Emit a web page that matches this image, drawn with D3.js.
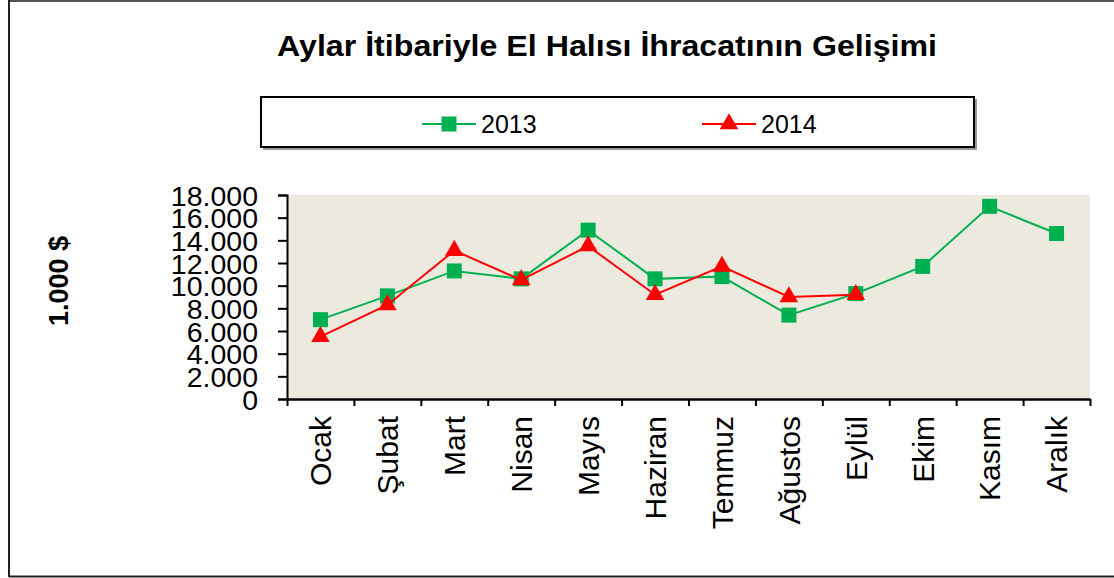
<!DOCTYPE html>
<html>
<head>
<meta charset="utf-8">
<script src="https://cdn.jsdelivr.net/npm/d3@7"></script>
<style>
  body { margin: 0; background: #fff; }
  text { font-family: "Liberation Sans", Arial, sans-serif; }
</style>
</head>
<body>
<div id="chart"></div>
<script>
// ---------------- DATA ----------------
var months = ["Ocak", "Şubat", "Mart", "Nisan", "Mayıs", "Haziran",
              "Temmuz", "Ağustos", "Eylül", "Ekim", "Kasım", "Aralık"];
var values2013 = [7000, 9100, 11300, 10600, 14900, 10600, 10800, 7400, 9300, 11700, 17000, 14600];
var values2014 = [5500, 8300, 13100, 10500, 13500, 9200, 11700, 9000, 9200];
var yTicks = [0, 2000, 4000, 6000, 8000, 10000, 12000, 14000, 16000, 18000];
var titleText = "Aylar İtibariyle El Halısı İhracatının Gelişimi";
var yTitle = "1.000 $";

// ---------------- CANVAS ----------------
var svgWidth = 1114, svgHeight = 578;
var plot = {left: 287, right: 1090, top: 195, bottom: 399};

var svg = d3.select("#chart")
  .append("svg")
    .attr("width", svgWidth)
    .attr("height", svgHeight);

// outer frame (no right edge visible in the picture)
svg.append("line").attr("x1", 9).attr("x2", svgWidth).attr("y1", 1).attr("y2", 1)
  .attr("stroke", "#555").attr("stroke-width", 2);
svg.append("line").attr("x1", 9).attr("x2", 9).attr("y1", 0).attr("y2", 577)
  .attr("stroke", "#222").attr("stroke-width", 2);
svg.append("line").attr("x1", 9).attr("x2", svgWidth).attr("y1", 576.5).attr("y2", 576.5)
  .attr("stroke", "#222").attr("stroke-width", 2);

// title
svg.append("text")
  .attr("x", 277).attr("y", 56)
  .attr("font-size", 29).attr("font-weight", "bold")
  .attr("textLength", 660).attr("lengthAdjust", "spacingAndGlyphs")
  .text(titleText);

// ---------------- SCALES ----------------
var x = d3.scaleBand().domain(months).range([plot.left, plot.right]).padding(0);
var xEdges = d3.scaleLinear().domain([0, months.length]).range([plot.left, plot.right]);
var y = d3.scaleLinear().domain([0, 18000]).range([plot.bottom, plot.top]);

var trFormat = d3.formatLocale({decimal: ",", thousands: ".", grouping: [3], currency: ["", "$"]}).format(",d");

// plot background
svg.append("rect")
  .attr("x", plot.left).attr("y", plot.top)
  .attr("width", plot.right - plot.left).attr("height", plot.bottom - plot.top)
  .attr("fill", "#ECEADF");

// ---------------- AXES ----------------
var yAxis = svg.append("g")
  .attr("transform", `translate(${plot.left},0)`)
  .call(d3.axisLeft(y).tickValues(yTicks).tickFormat(trFormat).tickSize(9).tickPadding(20));
yAxis.select(".domain").attr("stroke", "#000").attr("stroke-width", 2);
yAxis.selectAll(".tick line").attr("stroke", "#000").attr("stroke-width", 2);
yAxis.selectAll(".tick text")
  .attr("font-size", 28.5).attr("font-family", "Liberation Sans, Arial, sans-serif")
  .attr("fill", "#000").attr("dy", "0.36em");

// x tick marks between categories
var xTicks = svg.append("g")
  .attr("transform", `translate(0,${plot.bottom})`)
  .call(d3.axisBottom(xEdges).tickValues(d3.range(months.length + 1)).tickFormat("").tickSize(7).tickSizeOuter(0));
xTicks.select(".domain").attr("stroke", "#000").attr("stroke-width", 2.5);
xTicks.selectAll(".tick line").attr("stroke", "#000").attr("stroke-width", 2);

// x category labels
var xLabels = svg.append("g")
  .attr("transform", `translate(0,${plot.bottom})`)
  .call(d3.axisBottom(x).tickSize(0));
xLabels.select(".domain").remove();
xLabels.selectAll(".tick text")
  .attr("font-size", 30).attr("font-family", "Liberation Sans, Arial, sans-serif")
  .attr("fill", "#000")
  .attr("text-anchor", "end")
  .attr("transform", "rotate(-90)")
  .attr("x", -17).attr("y", 0).attr("dy", "0.36em");

// y title
svg.append("text")
  .attr("transform", "translate(68,281) rotate(-90)")
  .attr("text-anchor", "middle")
  .attr("font-size", 27).attr("font-weight", "bold")
  .text(yTitle);

// ---------------- SERIES ----------------
var series = [
  {name: "2013", values: values2013, color: "#00B050", symbol: d3.symbolSquare, size: 225},
  {name: "2014", values: values2014, color: "#FF0000", symbol: d3.symbolTriangle, size: 150}
];

var line = d3.line()
  .x((d, i) => x(months[i]) + x.bandwidth() / 2)
  .y(d => y(d));

series.forEach(function(s) {
  svg.append("path")
    .datum(s.values)
    .attr("d", line)
    .attr("fill", "none")
    .attr("stroke", s.color)
    .attr("stroke-width", 2);

  svg.selectAll(null)
    .data(s.values)
    .enter()
    .append("path")
      .attr("d", d3.symbol(s.symbol, s.size))
      .attr("transform", (d, i) => `translate(${x(months[i]) + x.bandwidth() / 2},${y(d)})`)
      .attr("fill", s.color);
});

// ---------------- LEGEND ----------------
svg.append("rect")
  .attr("x", 263).attr("y", 99).attr("width", 714).attr("height", 51)
  .attr("fill", "#999");
svg.append("rect")
  .attr("x", 261).attr("y", 97).attr("width", 713).attr("height", 50)
  .attr("fill", "#fff").attr("stroke", "#000").attr("stroke-width", 2);

var legendX = [422, 702];
series.forEach(function(s, i) {
  var g = svg.append("g").attr("transform", `translate(${legendX[i]},124)`);
  g.append("line").attr("x1", 0).attr("x2", 54).attr("y1", 0).attr("y2", 0)
    .attr("stroke", s.color).attr("stroke-width", 2);
  g.append("path")
    .attr("d", d3.symbol(s.symbol, s.size))
    .attr("transform", "translate(27,0)")
    .attr("fill", s.color);
  g.append("text")
    .attr("x", 59).attr("y", 0).attr("dy", "0.36em")
    .attr("font-size", 25)
    .text(s.name);
});
</script>
</body>
</html>
